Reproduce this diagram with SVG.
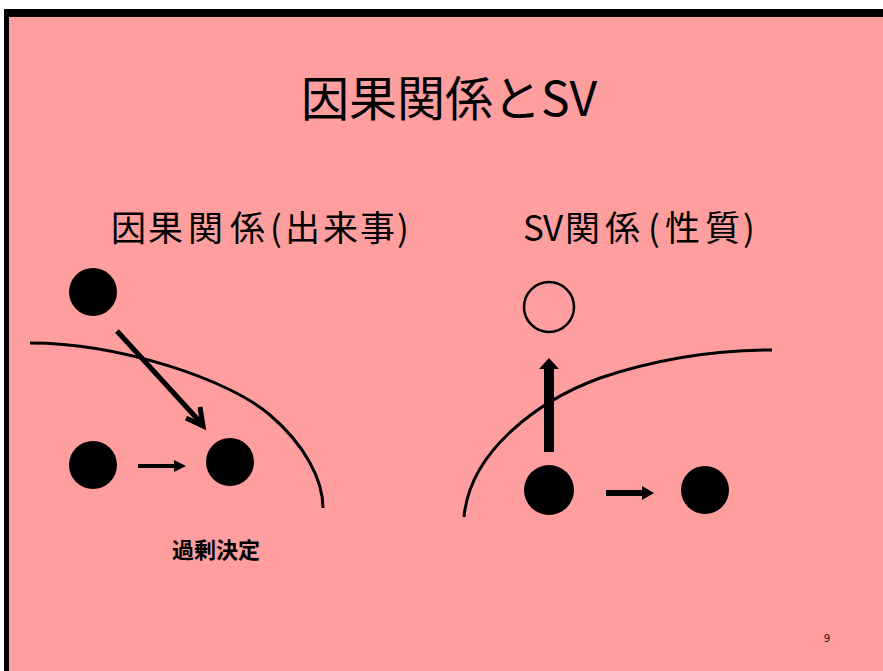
<svg xmlns="http://www.w3.org/2000/svg" width="883" height="671" viewBox="0 0 883 671">
<defs>
<style>
.t{font-family:"Noto Sans CJK JP","Liberation Sans",sans-serif;fill:#000}
.dot{fill:#000}
.curve{fill:none;stroke:#000;stroke-width:3}
</style>
</defs>
<rect x="0" y="0" width="883" height="671" fill="#fff"/>
<rect x="4" y="9" width="879" height="662" fill="#000"/>
<rect x="9" y="17" width="874" height="654" fill="#FF9E9E"/>
<g id="title"><text class="t" x="449" y="116" font-size="48" text-anchor="middle">因果関係とSV</text></g>
<g id="sub-left"><text class="t" x="111 148 188 230 270 285 323 360 397" y="241" font-size="35">因果関係(出来事)</text></g>
<g id="sub-right"><text class="t" x="523 543 565 605 648 665 705 743" y="241" font-size="35">SV関係(性質)</text></g>
<g id="curves">
<path class="curve" d="M30,343 C120,343 230,380 270,415 C305,445 323,480 323,508"/>
<path class="curve" d="M464,517 C470,450 540,400 600,378 C660,358 720,350 772,350"/>
</g>
<g id="n-left-top"><circle class="dot" cx="93" cy="292" r="24"/></g>
<g id="n-left-bl"><circle class="dot" cx="93" cy="465" r="24"/></g>
<g id="n-left-br"><circle class="dot" cx="230" cy="462" r="24"/></g>
<g id="n-right-open"><circle cx="549" cy="307" r="25" fill="none" stroke="#000" stroke-width="2.5"/></g>
<g id="n-right-bl"><circle class="dot" cx="549" cy="490" r="25"/></g>
<g id="n-right-br"><circle class="dot" cx="705" cy="490" r="24"/></g>
<g id="connectors">
<line x1="117" y1="331" x2="202" y2="424" stroke="#000" stroke-width="5"/>
<polyline points="186,418 203,426 200,407" fill="none" stroke="#000" stroke-width="5" stroke-linejoin="miter"/>
<line x1="138" y1="466" x2="176" y2="466" stroke="#000" stroke-width="4"/>
<path d="M174,460 L186,466 L174,472 Z" fill="#000"/>
<rect x="544" y="367" width="10" height="85" fill="#000"/>
<path d="M539,369 L549,358 L559,369 Z" fill="#000"/>
<line x1="606" y1="493" x2="644" y2="493" stroke="#000" stroke-width="6"/>
<path d="M642,486 L654,493 L642,500 Z" fill="#000"/>
</g>
<g id="label"><text class="t" x="172" y="558" font-size="22" font-weight="bold">過剰決定</text></g>
<g id="page"><text class="t" x="824" y="642" font-size="11">9</text></g>
</svg>
